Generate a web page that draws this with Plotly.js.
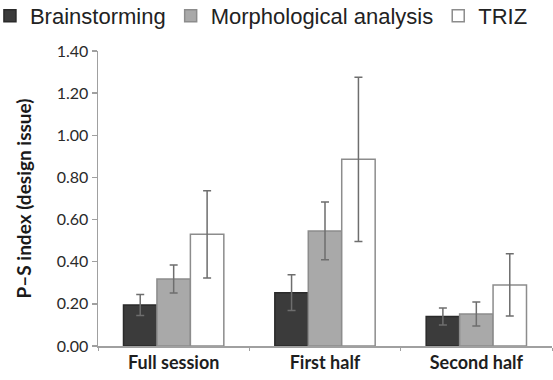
<!DOCTYPE html>
<html>
<head>
<meta charset="utf-8">
<script src="https://cdn.plot.ly/plotly-3.0.1.min.js"></script>
<style>html,body{margin:0;padding:0;background:#fff;}#chart{width:553px;height:380px;}</style>
</head>
<body>
<div id="chart"></div>
<script>
const categories = ["Full session", "First half", "Second half"];
const seriesNames = ["Brainstorming", "Morphological analysis", "TRIZ"];
const brainstorming = [0.195, 0.253, 0.140];
const brainstormingErr = [0.050, 0.085, 0.040];
const morphological = [0.318, 0.546, 0.152];
const morphologicalErr = [0.067, 0.137, 0.057];
const triz = [0.530, 0.886, 0.290];
const trizErr = [0.207, 0.390, 0.148];
const yTickVals = [0, 0.2, 0.4, 0.6, 0.8, 1.0, 1.2, 1.4];
const yTickText = ["0.00", "0.20", "0.40", "0.60", "0.80", "1.00", "1.20", "1.40"];

const fills = ["#3b3b3b", "#a9a9a9", "#ffffff"];
const lines = ["#2a2a2a", "#8c8c8c", "#8c8c8c"];
const vals = [brainstorming, morphological, triz];
const errs = [brainstormingErr, morphologicalErr, trizErr];

const traces = seriesNames.map((n, i) => ({
  type: "bar",
  name: n,
  x: categories,
  y: vals[i],
  marker: {color: fills[i], line: {color: lines[i], width: 1.5}},
  error_y: {type: "data", array: errs[i], visible: true, color: "#6e6e6e", thickness: 1.5, width: 4}
}));

const layout = {
  width: 553, height: 380,
  margin: {l: 98, r: 1, t: 51, b: 34, autoexpand: false},
  paper_bgcolor: "#ffffff", plot_bgcolor: "#ffffff",
  barmode: "group", bargap: 0.337, bargroupgap: 0,
  showlegend: true,
  legend: {
    orientation: "h", x: -0.238, xanchor: "left", y: 1.19, yanchor: "top",
    font: {family: "Liberation Sans, Arial, sans-serif", size: 22, color: "#222222"},
    itemclick: false, bgcolor: "rgba(0,0,0,0)", traceorder: "normal"
  },
  xaxis: {
    type: "category",
    showline: true, linecolor: "#a0a0a0", linewidth: 1.5,
    ticks: "outside", tickson: "boundaries", ticklen: 3, tickcolor: "#a0a0a0", tickwidth: 1,
    showgrid: false, zeroline: false,
    tickfont: {family: "Lato, sans-serif", size: 18, color: "#1e1e1e", weight: "bold"}
  },
  yaxis: {
    range: [0, 1.4], fixedrange: true,
    tickvals: yTickVals, ticktext: yTickText,
    showline: true, linecolor: "#a0a0a0", linewidth: 1.5,
    ticks: "outside", ticklen: 5, tickcolor: "#a0a0a0", tickwidth: 1.5,
    showgrid: false, zeroline: false,
    tickfont: {family: "Lato, sans-serif", size: 16, color: "#2a2a2a"},
    title: {text: "P–S index (design issue)", standoff: 20,
      font: {family: "Lato, sans-serif", size: 19, color: "#1a1a1a", weight: "bold"}}
  }
};

Plotly.newPlot("chart", traces, layout, {displayModeBar: false, staticPlot: true});
</script>
</body>
</html>
